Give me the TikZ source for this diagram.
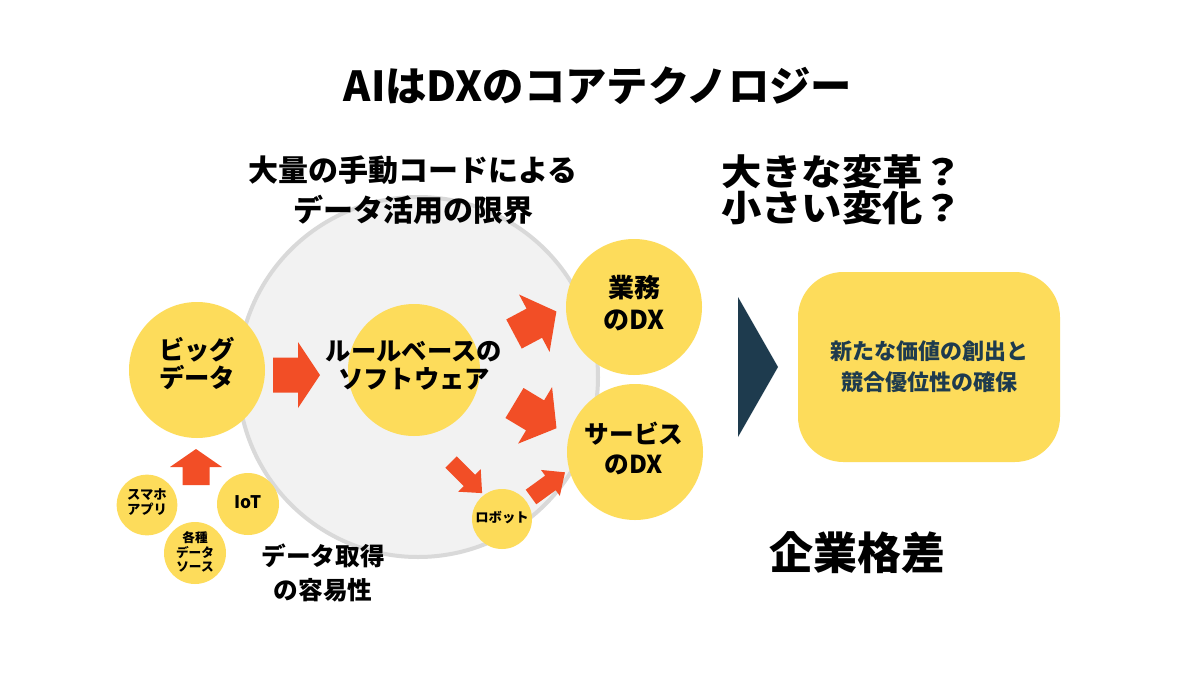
\documentclass[tikz,border=0pt]{standalone}
\usepackage{fontspec}
\setmainfont{Noto Sans CJK JP}
\newfontfamily\widejp{Noto Sans CJK JP}[FakeStretch=1.12]
\definecolor{dxyellow}{HTML}{FDDC5B}
\definecolor{dxred}{HTML}{F24E26}
\definecolor{dxnavy}{HTML}{1E3B4E}
\definecolor{dxgrayfill}{HTML}{F2F2F2}
\definecolor{dxgrayline}{HTML}{D9D9D9}
\newcommand{\fsz}[2]{\fontsize{#1}{#2}\selectfont\bfseries}
% back-mid point, angle, length, body half-width, head half-width, head length
\newcommand{\dxblockarrow}[6]{%
  \fill[dxred, shift={(#1)}, rotate=#2]
    (0,-#4) -- ({#3-#6},-#4) -- ({#3-#6},-#5) -- (#3,0)
    -- ({#3-#6},#5) -- ({#3-#6},#4) -- (0,#4) -- cycle;}
\tikzset{
  yc/.style={circle, fill=dxyellow, inner sep=0pt},
  lbl/.style={align=center, inner sep=0pt, text=black},
}
\begin{document}
\begin{tikzpicture}[x=0.75pt, y=-0.75pt]
\useasboundingbox (0,0) rectangle (1200,675);
\fill[white] (0,0) rectangle (1200,675);

% title
\node[lbl, font=\fsz{31}{36}] (title) at (598,86) {AIはDXのコアテクノロジー};

% big gray circle
\node[circle, fill=dxgrayfill, draw=dxgrayline, line width=3pt, minimum size=270pt, inner sep=0pt] (ruleworld) at (418,377) {};

\node[lbl, font=\fsz{22.5}{30}] (limit) at (413,190) {大量の手動コードによる\\データ活用の限界};

% yellow circles
\node[yc, minimum size=102pt] (bigdata) at (197,370) {};
\node[yc, minimum size=99pt] (soft) at (414,370) {};
\node[yc, minimum size=102pt] (gyomu) at (634,307) {};
\node[yc, minimum size=102pt] (service) at (635,452) {};
\node[yc, minimum size=45pt] (robot) at (502,519) {};
\node[yc, minimum size=45.5pt] (smartphone) at (147,505) {};
\node[yc, minimum size=46.5pt] (iot) at (248,504) {};
\node[yc, minimum size=46.5pt] (sources) at (195,553) {};

% circle texts
\node[lbl, font=\fsz{19}{21}] (bigdatalabel) at (197,364) {ビッグ\\データ};
\node[lbl, font=\fsz{19}{21}] (softlabel) at (414,366) {ルールベースの\\ソフトウェア};
\node[lbl, font=\fsz{19.5}{23.5}] (gyomulabel) at (634,303) {業務\\のDX};
\node[lbl, font=\fsz{18.5}{22.5}] (servicelabel) at (634,448) {サービス\\のDX};
\node[lbl, font=\fsz{10}{12}] (robotlabel) at (502,518) {ロボット};
\node[lbl, font=\fsz{13}{15}] (iotlabel) at (248,502) {IoT};
\node[lbl, font=\fsz{10}{11.5}] (smartlabel) at (147,502) {スマホ\\アプリ};
\node[lbl, font=\fsz{9.5}{11}] (sourceslabel) at (195,552) {各種\\データ\\ソース};

% block arrows
\dxblockarrow{273,375}{0}{47}{17.5}{33}{22}
\dxblockarrow{514,334}{28}{48}{16.5}{32.5}{25}
\dxblockarrow{514.5,403}{-31}{49}{17.5}{33}{25}
\dxblockarrow{196,485}{90}{36}{13.5}{26}{18}
\dxblockarrow{451,462}{-45}{44}{8}{16}{18}
\dxblockarrow{531,497}{36}{42}{9}{16}{18}

\node[lbl, font=\fsz{18.5}{25}] (ease) at (323,573) {データ取得\\の容易性};

% right side
\node[lbl, anchor=west, align=left, font={\widejp\fsz{27}{25.5}}] (question) at (721,190) {大きな変革？\\小さい変化？};
\fill[dxnavy] (738,297) -- (778,367) -- (738,437) -- cycle;
\node[rectangle, rounded corners=34pt, fill=dxyellow, minimum width=196.5pt, minimum height=142.5pt, inner sep=0pt,
      text=dxnavy, align=center, font=\fsz{16.5}{23}] (result) at (929,367) {新たな価値の創出と\\競合優位性の確保};
\node[lbl, font=\fsz{33}{40}] (gap) at (857,553) {企業格差};
\end{tikzpicture}
\end{document}
